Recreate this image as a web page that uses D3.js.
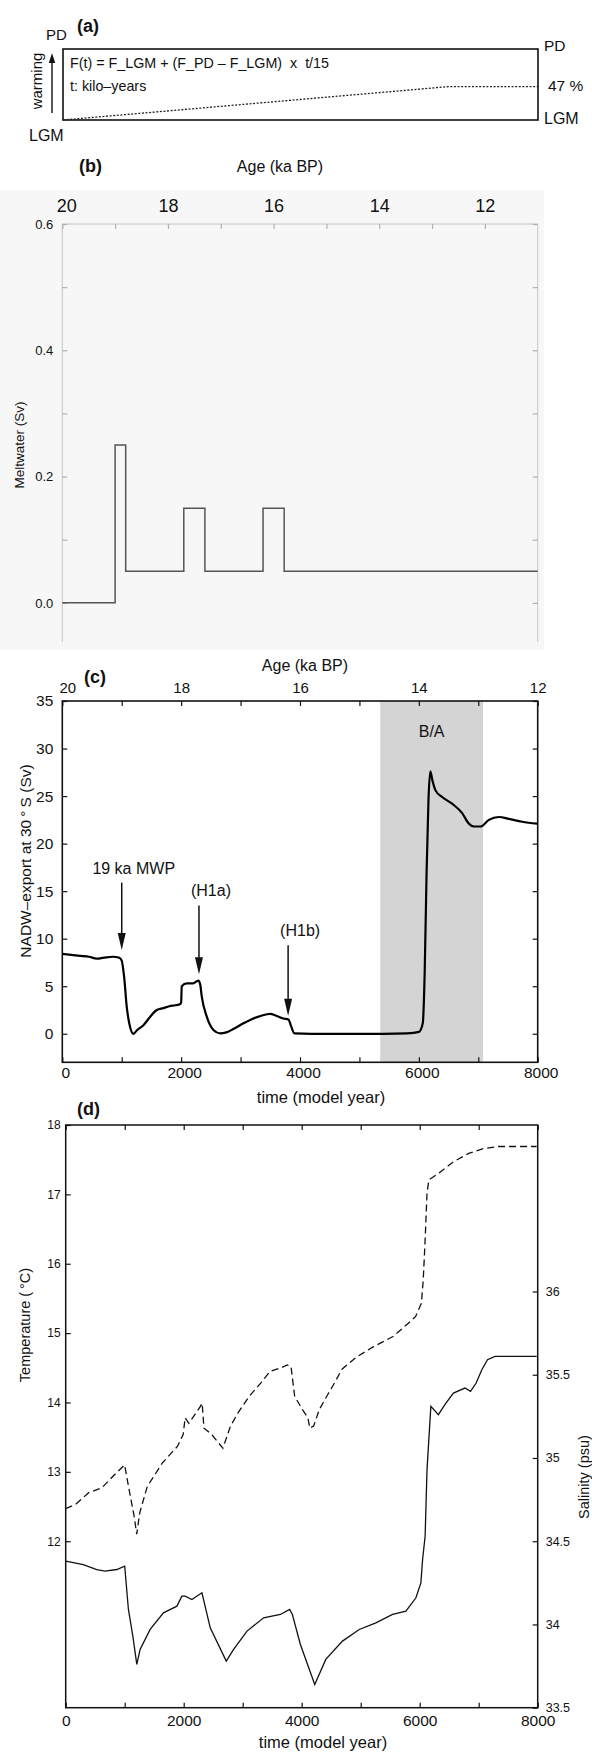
<!DOCTYPE html>
<html>
<head>
<meta charset="utf-8">
<script src="https://cdn.jsdelivr.net/npm/d3@7"></script>
<style>
  body { margin: 0; background: #fff; }
  svg { display: block; }
  text { font-family: 'Liberation Sans', Arial, Helvetica, sans-serif; fill: #111; }
</style>
</head>
<body>
<svg id="chart" width="592" height="1755"></svg>
<script>
// ---------- data ----------
// (a) forcing, percent of the way from LGM to PD
const forcingAge = [20, 12.7, 11];
const forcingPct = [0, 47, 47];

// (b) meltwater steps (ka BP -> Sv)
const meltAge = [20, 19, 18.8, 17.7, 17.3, 16.2, 15.8, 11];
const meltSv  = [0, 0.25, 0.05, 0.15, 0.05, 0.15, 0.05, 0.05];
const meltTicks = [0, 0.1, 0.2, 0.3, 0.4, 0.5, 0.6];

const ageTicks = [20, 19, 18, 17, 16, 15, 14, 13, 12];

// (c) NADW export at 30S
const nadwYear = [0, 150, 300, 450, 580, 700, 850, 960, 1000, 1040, 1085, 1130, 1195, 1260, 1365, 1480,
  1590, 1700, 1800, 1900, 1980, 2000, 2010, 2095, 2200, 2290, 2320, 2347, 2431, 2543, 2655, 2760,
  2880, 3050, 3215, 3350, 3497, 3600, 3720, 3805, 3850, 3905, 4200, 4600, 5000, 5400, 5800, 6003,
  6066, 6098, 6130, 6162, 6193, 6230, 6280, 6392, 6560, 6729, 6841, 6926, 7037, 7178, 7347, 7515,
  7740, 7992];
const nadwSv = [8.4, 8.3, 8.2, 8.1, 7.9, 8.0, 8.1, 8.0, 7.7, 6.0, 2.8, 1.0, 0.0, 0.4, 0.9, 1.8,
  2.5, 2.7, 2.9, 3.0, 3.1, 3.3, 5.0, 5.3, 5.3, 5.6, 5.2, 3.9, 1.8, 0.4, 0.05, 0.15,
  0.5, 1.1, 1.6, 1.9, 2.1, 1.9, 1.6, 1.5, 0.8, 0.05, 0, 0, 0, 0, 0.05, 0.2,
  1.1, 6.4, 16.9, 24.6, 27.6, 26.6, 25.6, 24.9, 24.2, 23.2, 22.1, 21.8, 21.8, 22.5, 22.8, 22.6,
  22.3, 22.1];
const nadwTicks = [0, 5, 10, 15, 20, 25, 30, 35];
const yearTicks = [0, 1000, 2000, 3000, 4000, 5000, 6000, 7000, 8000];

const baYears = [5350, 7080];
const arrowYear  = [1000, 2300, 3800];
const arrowTop   = [15.9, 13.5, 9.3];
const arrowTip   = [8.8, 6.25, 1.9];
const arrowLabel = ['19 ka MWP', '(H1a)', '(H1b)'];

// (d) temperature (dashed) and salinity (solid)
const tempYear = [0, 166, 390, 614, 806, 998, 1095, 1160, 1204, 1255, 1383, 1640, 1896, 1992, 2024, 2088,
  2280, 2312, 2344, 2472, 2664, 2793, 2920, 3112, 3305, 3465, 3655, 3754, 3818, 3881, 4010, 4105,
  4138, 4202, 4299, 4459, 4555, 4683, 4939, 5228, 5548, 5803, 5931, 6029, 6060, 6092, 6124, 6156,
  6316, 6572, 6829, 7085, 7341, 7727, 7981];
const tempC = [12.47, 12.53, 12.70, 12.77, 12.94, 13.10, 12.65, 12.36, 12.10, 12.41, 12.79, 13.13, 13.37, 13.54, 13.78, 13.70,
  13.94, 13.99, 13.63, 13.54, 13.34, 13.66, 13.85, 14.09, 14.28, 14.45, 14.50, 14.54, 14.52, 14.09, 13.90, 13.78,
  13.63, 13.66, 13.90, 14.14, 14.28, 14.48, 14.66, 14.81, 14.95, 15.14, 15.24, 15.43, 15.77, 16.34, 17.02, 17.21,
  17.30, 17.47, 17.59, 17.66, 17.69, 17.69, 17.69];
const salYear = [0, 299, 526, 667, 866, 1000, 1063, 1138, 1205, 1261, 1431, 1657, 1885, 1969, 2025, 2139,
  2309, 2450, 2721, 2846, 3073, 3355, 3638, 3796, 3842, 3978, 4221, 4408, 4691, 4975, 5257, 5540,
  5766, 5936, 6020, 6049, 6092, 6124, 6189, 6316, 6445, 6572, 6766, 6861, 6957, 7053, 7149, 7277,
  7598, 7982];
const salPsu = [34.38, 34.36, 34.33, 34.32, 34.33, 34.35, 34.09, 33.93, 33.76, 33.85, 33.97, 34.07, 34.11, 34.17, 34.17, 34.15,
  34.19, 33.98, 33.78, 33.85, 33.96, 34.04, 34.06, 34.09, 34.06, 33.88, 33.64, 33.79, 33.90, 33.97, 34.01, 34.06,
  34.08, 34.16, 34.25, 34.39, 34.53, 34.93, 35.31, 35.26, 35.33, 35.39, 35.42, 35.40, 35.45, 35.53, 35.59, 35.61,
  35.61, 35.61];
const tempTicks = [12, 13, 14, 15, 16, 17, 18];
const salTicks = [33.5, 34, 34.5, 35, 35.5, 36];

// ---------- helpers ----------
const svg = d3.select('#chart');

function text(x, y, str, size, opts) {
  opts = opts || {};
  const t = svg.append('text')
    .attr('x', x).attr('y', y)
    .attr('font-size', size)
    .attr('text-anchor', opts.anchor || 'start')
    .attr('font-weight', opts.bold ? 'bold' : null)
    .style('white-space', 'pre')
    .text(str);
  if (opts.rotate) {
    t.attr('transform', 'rotate(-90,' + x + ',' + y + ')').attr('dy', '0.35em');
  }
  return t;
}

function styleAxis(g, size, color) {
  g.select('.domain').remove();
  g.attr('font-family', null).attr('font-size', size);
  g.selectAll('line').attr('stroke', color).attr('stroke-width', 1.2);
  g.selectAll('text').style('fill', '#111');
  return g;
}

function frame(x0, x1, y0, y1, color, w) {
  svg.append('rect')
    .attr('x', x0).attr('y', y0)
    .attr('width', x1 - x0).attr('height', y1 - y0)
    .attr('fill', 'none').attr('stroke', color).attr('stroke-width', w);
}

// ---------- (a) ----------
const xA = d3.scaleLinear().domain([20, 11]).range([63, 538]);
const yA = d3.scaleLinear().domain([0, 100]).range([120, 49]);

frame(63, 538, 49, 120, '#111', 1.6);
svg.append('path')
  .datum(forcingAge.map((a, i) => [a, forcingPct[i]]))
  .attr('fill', 'none').attr('stroke', '#222').attr('stroke-width', 1.3)
  .attr('stroke-dasharray', '2,1.6')
  .attr('d', d3.line().x(d => xA(d[0])).y(d => yA(d[1])));

text(77, 32, '(a)', 18, { bold: true });
text(46, 40, 'PD', 15);
text(29, 141, 'LGM', 16);
text(37, 81, 'warming', 15, { anchor: 'middle', rotate: true });
svg.append('line').attr('x1', 52).attr('x2', 52).attr('y1', 113).attr('y2', 61)
  .attr('stroke', '#111').attr('stroke-width', 1.4);
svg.append('path').attr('d', 'M52,53 L48.8,63 L55.2,63 Z').attr('fill', '#111');
text(70, 68, 'F(t) = F_LGM + (F_PD – F_LGM)  x  t/15', 14.3);
text(70, 91, 't: kilo–years', 14.3);
text(544, 51, 'PD', 15.5);
text(548, 91, '47 %', 15.5);
text(544, 124, 'LGM', 16);

// ---------- (b) ----------
const xB = d3.scaleLinear().domain([20, 11]).range([62.3, 537.7]);
const yB = d3.scaleLinear().domain([-0.062, 0.6]).range([642, 224]);

svg.append('rect').attr('x', 0).attr('y', 190).attr('width', 544).attr('height', 460)
  .attr('fill', '#f7f7f7');

text(79, 172, '(b)', 18, { bold: true });
text(280, 172, 'Age (ka BP)', 16, { anchor: 'middle' });

const frameB = svg.append('g').attr('stroke', '#c4c4c4').attr('stroke-width', 1);
frameB.append('line').attr('x1', xB(20)).attr('x2', xB(11)).attr('y1', yB(0.6)).attr('y2', yB(0.6));
frameB.append('line').attr('x1', xB(20)).attr('x2', xB(20)).attr('y1', yB(0.6)).attr('y2', yB(-0.062));
frameB.append('line').attr('x1', xB(11)).attr('x2', xB(11)).attr('y1', yB(0.6)).attr('y2', yB(-0.062));

svg.append('g').attr('transform', 'translate(0,' + yB(0.6) + ')')
  .call(d3.axisTop(xB).tickValues(ageTicks).tickSize(-5).tickPadding(12)
    .tickFormat(d => d % 2 === 0 ? d : ''))
  .call(g => styleAxis(g, 18, '#b0b0b0'))
  .call(g => g.selectAll('text').filter(d => d === 20).attr('dx', 4));

svg.append('g').attr('transform', 'translate(' + xB(20) + ',0)')
  .call(d3.axisLeft(yB).tickValues(meltTicks).tickSize(-5).tickPadding(9)
    .tickFormat(d => Math.round(d * 10) % 2 === 0 ? d3.format('.1f')(d) : ''))
  .call(g => styleAxis(g, 13, '#b0b0b0'));

svg.append('g').attr('transform', 'translate(' + xB(11) + ',0)')
  .call(d3.axisRight(yB).tickValues(meltTicks).tickSize(-5).tickFormat(''))
  .call(g => styleAxis(g, 13, '#b0b0b0'));

svg.append('path')
  .datum(meltAge.map((a, i) => [a, meltSv[i]]))
  .attr('fill', 'none').attr('stroke', '#555').attr('stroke-width', 1.5)
  .attr('d', d3.line().curve(d3.curveStepAfter).x(d => xB(d[0])).y(d => yB(d[1])));

text(19, 445, 'Meltwater (Sv)', 13.5, { anchor: 'middle', rotate: true });

// ---------- (c) ----------
const tC = d3.scaleLinear().domain([0, 8000]).range([62.3, 537.7]);
const ageC = d3.scaleLinear().domain([20, 12]).range([62.3, 537.7]);
const yC = d3.scaleLinear().domain([-3, 35]).range([1062.3, 701]);

svg.append('rect')
  .attr('x', tC(baYears[0])).attr('y', yC(35))
  .attr('width', tC(baYears[1]) - tC(baYears[0])).attr('height', yC(-3) - yC(35))
  .attr('fill', '#d4d4d4');
text((tC(baYears[0]) + tC(baYears[1])) / 2, 737, 'B/A', 16, { anchor: 'middle' });

svg.append('path')
  .datum(nadwYear.map((t, i) => [t, nadwSv[i]]))
  .attr('fill', 'none').attr('stroke', '#000').attr('stroke-width', 2.2)
  .attr('stroke-linejoin', 'round')
  .attr('d', d3.line().curve(d3.curveMonotoneX).x(d => tC(d[0])).y(d => yC(d[1])));

frame(62.3, 537.7, 701, 1062.3, '#111', 1.6);

svg.append('g').attr('transform', 'translate(0,' + yC(35) + ')')
  .call(d3.axisTop(ageC).tickValues(ageTicks).tickSize(-5).tickPadding(8)
    .tickFormat(d => d % 2 === 0 ? d : ''))
  .call(g => styleAxis(g, 15, '#111'))
  .call(g => g.selectAll('text').filter(d => d === 20).attr('dx', 5));

svg.append('g').attr('transform', 'translate(0,' + yC(-3) + ')')
  .call(d3.axisBottom(tC).tickValues(yearTicks).tickSize(-5).tickPadding(5)
    .tickFormat(d => d % 2000 === 0 ? d : ''))
  .call(g => styleAxis(g, 15.5, '#111'))
  .call(g => g.selectAll('text').attr('dx', 3));

svg.append('g').attr('transform', 'translate(' + tC(0) + ',0)')
  .call(d3.axisLeft(yC).tickValues(nadwTicks).tickSize(-5).tickPadding(9))
  .call(g => styleAxis(g, 15.5, '#111'));

svg.append('g').attr('transform', 'translate(' + tC(8000) + ',0)')
  .call(d3.axisRight(yC).tickValues(nadwTicks).tickSize(-5).tickFormat(''))
  .call(g => styleAxis(g, 15, '#111'));

text(84, 683, '(c)', 18, { bold: true });
text(305, 671, 'Age (ka BP)', 16, { anchor: 'middle' });
text(321, 1103, 'time (model year)', 16.5, { anchor: 'middle' });
text(26, 861, 'NADW–export at 30\u2009°\u2009S (Sv)', 15.5, { anchor: 'middle', rotate: true });

arrowYear.forEach((t, i) => {
  const x = tC(t);
  svg.append('line').attr('x1', x).attr('x2', x)
    .attr('y1', yC(arrowTop[i])).attr('y2', yC(arrowTip[i]) - 12)
    .attr('stroke', '#111').attr('stroke-width', 1.5);
  svg.append('path')
    .attr('d', 'M' + x + ',' + yC(arrowTip[i]) + ' l-4,-17 l8,0 Z')
    .attr('fill', '#111');
  text(x + 12, yC(arrowTop[i]) - 9, arrowLabel[i], 16, { anchor: 'middle' });
});

// ---------- (d) ----------
const tD = d3.scaleLinear().domain([0, 8000]).range([65.7, 537.7]);
const yT = d3.scaleLinear().domain([9.6, 18]).range([1707.7, 1125]);
const yS = d3.scaleLinear().domain([33.5, 37]).range([1707.7, 1125]);

svg.append('path')
  .datum(tempYear.map((t, i) => [t, tempC[i]]))
  .attr('fill', 'none').attr('stroke', '#111').attr('stroke-width', 1.3)
  .attr('stroke-dasharray', '7,4')
  .attr('d', d3.line().x(d => tD(d[0])).y(d => yT(d[1])));

svg.append('path')
  .datum(salYear.map((t, i) => [t, salPsu[i]]))
  .attr('fill', 'none').attr('stroke', '#111').attr('stroke-width', 1.3)
  .attr('d', d3.line().x(d => tD(d[0])).y(d => yS(d[1])));

frame(65.7, 537.7, 1125, 1707.7, '#111', 1.5);

svg.append('g').attr('transform', 'translate(0,1125)')
  .call(d3.axisTop(tD).tickValues(yearTicks).tickSize(-5).tickFormat(''))
  .call(g => styleAxis(g, 15, '#111'));

svg.append('g').attr('transform', 'translate(0,1707.7)')
  .call(d3.axisBottom(tD).tickValues(yearTicks).tickSize(-5).tickPadding(7)
    .tickFormat(d => d % 2000 === 0 ? d : ''))
  .call(g => styleAxis(g, 15.5, '#111'));

svg.append('g').attr('transform', 'translate(65.7,0)')
  .call(d3.axisLeft(yT).tickValues(tempTicks).tickSize(-5).tickPadding(5))
  .call(g => styleAxis(g, 12, '#111'));

svg.append('g').attr('transform', 'translate(537.7,0)')
  .call(d3.axisRight(yS).tickValues(salTicks).tickSize(-5).tickPadding(8)
    .tickFormat(d => String(d)))
  .call(g => styleAxis(g, 12.5, '#111'));

text(77, 1115, '(d)', 18, { bold: true });
text(323, 1748, 'time (model year)', 16.5, { anchor: 'middle' });
text(25, 1325, 'Temperature (\u2009°C)', 14.5, { anchor: 'middle', rotate: true });
text(584, 1477, 'Salinity (psu)', 14.5, { anchor: 'middle', rotate: true });
</script>
</body>
</html>
